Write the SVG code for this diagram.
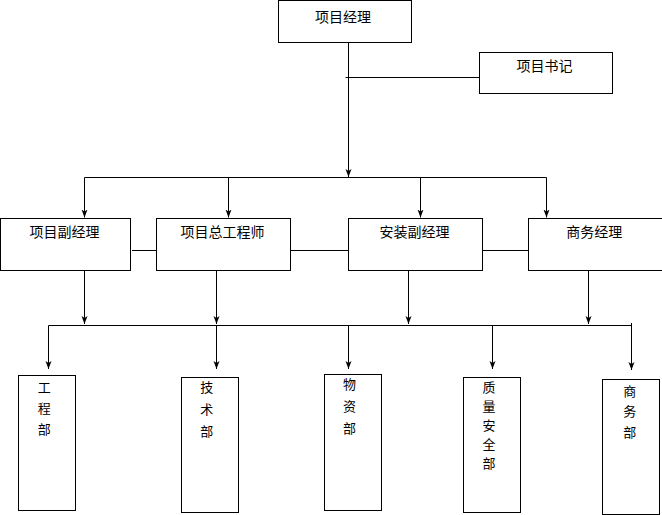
<svg xmlns="http://www.w3.org/2000/svg" width="662" height="515" viewBox="0 0 662 515">
<defs>
<style>
.box{fill:#fff;stroke:#000;stroke-width:1}
.ln{fill:none;stroke:#000;stroke-width:1}
.arr{marker-end:url(#ah)}
text{font-family:"Noto Sans CJK SC","Liberation Sans",sans-serif;font-size:14px;fill:#000;text-anchor:middle}
text.v{font-size:13px}
</style>
<marker id="ah" markerUnits="userSpaceOnUse" markerWidth="8" markerHeight="8" viewBox="0 0 8 8" refX="8" refY="4" orient="auto">
<path d="M0,1 L8,4 L0,7 L2,4 z" fill="#000"/>
</marker>
</defs>
<rect width="662" height="515" fill="#fff"/>
<g id="connectors">
<line class="ln arr" x1="348.5" y1="42.5" x2="348.5" y2="177"/>
<line class="ln" x1="345.5" y1="77.5" x2="479.5" y2="77.5"/>
<line class="ln" x1="84.5" y1="177.5" x2="546.5" y2="177.5"/>
<line class="ln arr" x1="84.5" y1="177.5" x2="84.5" y2="217.5"/>
<line class="ln arr" x1="228.5" y1="177.5" x2="228.5" y2="217.5"/>
<line class="ln arr" x1="420.5" y1="177.5" x2="420.5" y2="217.5"/>
<line class="ln arr" x1="546.5" y1="177.5" x2="546.5" y2="217.5"/>
<line class="ln" x1="132" y1="250.5" x2="156.5" y2="250.5"/>
<line class="ln" x1="288.5" y1="250.5" x2="348.5" y2="250.5"/>
<line class="ln" x1="482.5" y1="250.5" x2="529.5" y2="250.5"/>
<line class="ln arr" x1="84.5" y1="270.5" x2="84.5" y2="324"/>
<line class="ln arr" x1="216.5" y1="270.5" x2="216.5" y2="324"/>
<line class="ln arr" x1="408.5" y1="270.5" x2="408.5" y2="324"/>
<line class="ln arr" x1="588.5" y1="270.5" x2="588.5" y2="324"/>
<line class="ln" x1="48.5" y1="325.5" x2="631.5" y2="325.5"/>
<line class="ln arr" x1="48.5" y1="325.5" x2="48.5" y2="369"/>
<line class="ln arr" x1="216.5" y1="325.5" x2="216.5" y2="369"/>
<line class="ln arr" x1="348.5" y1="325.5" x2="348.5" y2="369"/>
<line class="ln arr" x1="492.5" y1="325.5" x2="492.5" y2="369"/>
<line class="ln arr" x1="631.5" y1="323" x2="631.5" y2="370"/>
</g>
<g id="n-pm"><rect class="box" x="278.5" y="0.5" width="133" height="42"/><text x="343" y="22">项目经理</text></g>
<g id="n-sec"><rect class="box" x="479.5" y="52.5" width="133" height="41"/><text x="544.5" y="71">项目书记</text></g>
<g id="n-vpm"><rect class="box" x="0.5" y="218.5" width="130" height="52"/><text x="64.6" y="237">项目副经理</text></g>
<g id="n-ce"><rect class="box" x="156.5" y="218.5" width="134" height="52"/><text x="222.5" y="237">项目总工程师</text></g>
<g id="n-ivpm"><rect class="box" x="348.5" y="218.5" width="134" height="52"/><text x="414.5" y="237">安装副经理</text></g>
<g id="n-bm"><rect class="box" x="528.5" y="218.5" width="145" height="52"/><text x="594.3" y="237">商务经理</text></g>
<g id="n-eng"><rect class="box" x="18.5" y="375.5" width="57" height="135"/><text class="v" x="44.3"><tspan x="44.3" y="392">工</tspan><tspan x="44.3" y="413">程</tspan><tspan x="44.3" y="434">部</tspan></text></g>
<g id="n-tech"><rect class="box" x="181.5" y="377.5" width="57" height="135"/><text class="v" x="206.8"><tspan x="206.8" y="392">技</tspan><tspan x="206.8" y="414">术</tspan><tspan x="206.8" y="436">部</tspan></text></g>
<g id="n-mat"><rect class="box" x="324.5" y="374.5" width="57" height="136"/><text class="v" x="349.5"><tspan x="349.5" y="389">物</tspan><tspan x="349.5" y="411">资</tspan><tspan x="349.5" y="433">部</tspan></text></g>
<g id="n-qs"><rect class="box" x="463.5" y="377.5" width="57" height="135"/><text class="v" x="489"><tspan x="489" y="392">质</tspan><tspan x="489" y="411">量</tspan><tspan x="489" y="430">安</tspan><tspan x="489" y="449">全</tspan><tspan x="489" y="468">部</tspan></text></g>
<g id="n-biz"><rect class="box" x="602.5" y="379.5" width="57" height="135"/><text class="v" x="629.8"><tspan x="629.8" y="396">商</tspan><tspan x="629.8" y="416">务</tspan><tspan x="629.8" y="437">部</tspan></text></g>
</svg>
